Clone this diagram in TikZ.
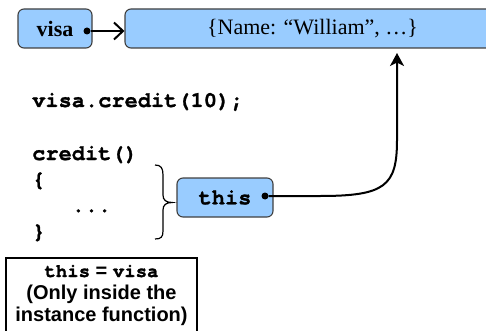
\documentclass[tikz,border=0pt]{standalone}
\usepackage{fontspec}
\setmainfont{Liberation Serif}
\setsansfont{Liberation Sans}
\setmonofont{TeX Gyre Cursor}[BoldFeatures={FakeBold=1.2}]
\usetikzlibrary{arrows.meta}
\definecolor{boxblue}{HTML}{99CCFF}
\definecolor{boxedge}{HTML}{404040}
\tikzset{
  bluebox/.style={draw=boxedge, fill=boxblue, line width=1.1pt, rounded corners=6pt, inner sep=0pt},
  code/.style={font=\fontsize{22}{26}\selectfont\ttfamily\bfseries, inner sep=0pt, anchor=base west},
  dotnode/.style={circle, fill=black, minimum size=7pt, inner sep=0pt},
  conn/.style={line width=2pt},
}
\begin{document}
\begin{tikzpicture}[x=1pt, y=-1pt]
\clip (0,0) rectangle (486,331);
\useasboundingbox (0,0) rectangle (486,331);
% boxes
\node[bluebox, minimum width=74pt, minimum height=39pt,
      font=\fontsize{22}{24}\selectfont\bfseries] (visa) at (55,28.5) {visa};
\node[bluebox, minimum width=375pt, minimum height=39pt,
      font=\fontsize{22}{24}\selectfont] (obj) at (312.5,28.5) {\{Name: “William”, …\}};
\node[dotnode] (vd) at (87,31) {};
\draw[conn, -{Straight Barb[length=9pt,width=17pt,line width=2pt]}] (vd) -- (obj.west |- vd);
% code
\node[code] (call) at (32,107) {visa.credit(10);};
\node[code] (fn) at (32,160) {credit()};
\node[code] (ob) at (32,186) {\{};
\node[code] (dots) at (71.5,212) {...};
\node[code] (cb) at (32,238) {\}};
% brace
\draw[line width=1.2pt] (155,165) .. controls (161,165) and (163,168) .. (163,175) -- (163,195)
  .. controls (163,200) and (166,202.5) .. (172,202.5)
  .. controls (166,202.5) and (163,205) .. (163,210) -- (163,231)
  .. controls (163,237) and (161,239) .. (155,239);
% this box
\node[bluebox, minimum width=96pt, minimum height=39pt,
      font=\fontsize{22}{24}\selectfont\ttfamily\bfseries] (this) at (225,197.5) {this};
\node[dotnode] (td) at (265,196) {};
\coordinate (tgt) at (397,53);
\draw[conn, -{Stealth[length=13pt,width=14pt,inset=3.5pt]}] (td) -- (320,196)
  .. controls (385,196) and (397,186) .. (397,140) -- (tgt);
% note box
\draw[line width=1.3pt] (6,258) rectangle (197,345);
\node[align=center, inner sep=0pt, font=\fontsize{20}{22}\selectfont\sffamily\bfseries] (note) at (101.5,295)
  {{\fontsize{19}{22}\selectfont\ttfamily\bfseries this} = {\fontsize{19}{22}\selectfont\ttfamily\bfseries visa}\\
   (Only inside the\\ instance function)};
\end{tikzpicture}
\end{document}
